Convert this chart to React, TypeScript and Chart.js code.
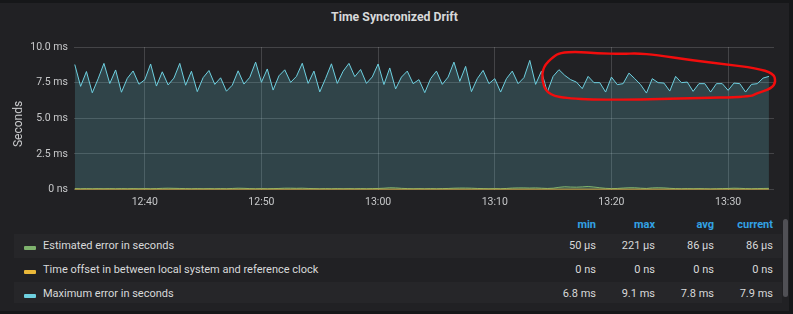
import React, { useEffect, useRef } from "react";
import { Chart, registerables } from "chart.js";

Chart.register(...registerables);

// ---- Data ----
const startTime = "12:34:00";
const sampleStepSeconds = 30;

const maxErrorMs = [
  8.77, 7.24, 8.28, 6.79, 7.77, 8.85, 7.44, 8.39, 6.83, 7.8,
  8.32, 7.39, 7.7, 8.81, 7.26, 8.26, 7.34, 7.82, 8.85, 7.32,
  8.3, 6.87, 7.85, 8.35, 7.38, 7.84, 6.9, 7.32, 8.33, 7.4,
  7.87, 8.94, 7.53, 8.46, 6.98, 7.98, 8.4, 7.52, 7.94, 8.86,
  7.45, 8.31, 6.85, 7.8, 8.82, 7.45, 8.3, 8.85, 7.92, 8.42,
  7.45, 7.9, 8.81, 7.37, 8.53, 7.06, 7.89, 8.31, 7.43, 7.71,
  6.8, 7.78, 8.31, 7.38, 7.89, 8.94, 7.59, 8.64, 6.87, 7.78,
  8.36, 7.43, 7.78, 6.84, 7.78, 8.31, 7.43, 7.85, 9.06, 7.38,
  8.31, 6.84, 7.94, 8.41, 8.01, 7.71, 7.54, 7.08, 7.94, 7.5,
  7.5, 6.84, 7.89, 7.36, 7.43, 8.17, 7.78, 7.36, 6.77, 7.78,
  7.5, 7.47, 6.91, 7.94, 7.5, 7.54, 6.89, 7.43, 7.43, 6.84,
  7.43, 7.43, 6.96, 7.47, 7.43, 6.84, 7.38, 7.43, 7.82, 7.94,
];

const estimatedErrorMs = [
  0.07, 0.06, 0.07, 0.06, 0.07, 0.06, 0.07, 0.06, 0.07, 0.06,
  0.07, 0.06, 0.07, 0.06, 0.07, 0.09, 0.1, 0.09, 0.08, 0.07,
  0.06, 0.07, 0.06, 0.07, 0.06, 0.07, 0.06, 0.08, 0.1, 0.09,
  0.07, 0.06, 0.07, 0.06, 0.07, 0.08, 0.1, 0.1, 0.09, 0.1,
  0.08, 0.07, 0.06, 0.07, 0.06, 0.07, 0.06, 0.07, 0.06, 0.07,
  0.06, 0.07, 0.08, 0.1, 0.13, 0.12, 0.09, 0.07, 0.06, 0.07,
  0.06, 0.07, 0.06, 0.07, 0.08, 0.1, 0.11, 0.11, 0.1, 0.08,
  0.07, 0.06, 0.07, 0.06, 0.08, 0.11, 0.12, 0.12, 0.11, 0.12,
  0.1, 0.08, 0.1, 0.16, 0.2, 0.18, 0.17, 0.19, 0.221, 0.18,
  0.13, 0.09, 0.07, 0.08, 0.11, 0.13, 0.13, 0.1, 0.08, 0.12,
  0.13, 0.12, 0.09, 0.07, 0.06, 0.07, 0.06, 0.07, 0.06, 0.05,
  0.06, 0.07, 0.08, 0.1, 0.09, 0.07, 0.06, 0.07, 0.08, 0.086,
];

const timeOffsetMs = [
  0, 0, 0, 0, 0, 0, 0, 0, 0, 0,
  0, 0, 0, 0, 0, 0, 0, 0, 0, 0,
  0, 0, 0, 0, 0, 0, 0, 0, 0, 0,
  0, 0, 0, 0, 0, 0, 0, 0, 0, 0,
  0, 0, 0, 0, 0, 0, 0, 0, 0, 0,
  0, 0, 0, 0, 0, 0, 0, 0, 0, 0,
  0, 0, 0, 0, 0, 0, 0, 0, 0, 0,
  0, 0, 0, 0, 0, 0, 0, 0, 0, 0,
  0, 0, 0, 0, 0, 0, 0, 0, 0, 0,
  0, 0, 0, 0, 0, 0, 0, 0, 0, 0,
  0, 0, 0, 0, 0, 0, 0, 0, 0, 0,
  0, 0, 0, 0, 0, 0, 0, 0, 0, 0,
];

const xTickLabels = ["12:40", "12:50", "13:00", "13:10", "13:20", "13:30"];
const yTickValues = [0, 2.5, 5, 7.5, 10];
const yTickLabels = ["0 ns", "2.5 ms", "5.0 ms", "7.5 ms", "10.0 ms"];

const seriesNames = [
  "Estimated error in seconds",
  "Time offset in between local system and reference clock",
  "Maximum error in seconds",
];
const seriesColors = ["#7EB26D", "#EAB839", "#6ED0E0"];
const statHeaders = ["min", "max", "avg", "current"];
const statMin = ["50 µs", "0 ns", "6.8 ms"];
const statMax = ["221 µs", "0 ns", "9.1 ms"];
const statAvg = ["86 µs", "0 ns", "7.8 ms"];
const statCurrent = ["86 µs", "0 ns", "7.9 ms"];

// hand-drawn highlight loop (time in minutes of day, value in ms)
const loopMinutes = [
  795.59, 797.02, 798.73, 801.01, 802.16, 803.87, 806.73, 809.58, 812.45, 813.87,
  814.1, 813.73, 812.45, 811.87, 806.73, 799.87, 795.87, 794.45, 794.02, 794.16, 795.01,
];
const loopValues = [
  9.6, 9.67, 9.56, 9.51, 9.56, 9.44, 9.09, 8.81, 8.51, 8.16,
  7.57, 7.1, 6.75, 6.51, 6.4, 6.28, 6.4, 6.75, 7.69, 8.62, 9.32,
];

const title = "Time Syncronized Drift";
const yAxisTitle = "Seconds";

function toMinutes(t: string): number {
  const p = t.split(":").map(Number);
  return p[0] * 60 + p[1] + (p[2] || 0) / 60;
}
function fmtTime(m: number): string {
  const h = Math.floor(m / 60);
  const mm = Math.round(m - h * 60);
  return String(h).padStart(2, "0") + ":" + String(mm).padStart(2, "0");
}

const FONT = "Roboto, 'Noto Sans', sans-serif";

export default function App() {
  const canvasRef = useRef<HTMLCanvasElement | null>(null);

  useEffect(() => {
    const canvas = canvasRef.current;
    if (!canvas) return;
    const start = toMinutes(startTime);
    const xs = maxErrorMs.map((_, i) => start + (i * sampleStepSeconds) / 60);
    const mk = (arr: number[]) => arr.map((v, i) => ({ x: xs[i], y: v }));
    const xMin = start - 4 / 60;
    const xMax = xMin + 60;

    const loopPlugin = {
      id: "loop",
      afterDatasetsDraw(chart: any) {
        const ctx = chart.ctx;
        const sx = chart.scales.x;
        const sy = chart.scales.y;
        const pts = loopMinutes.map((m, i) => [sx.getPixelForValue(m), sy.getPixelForValue(loopValues[i])]);
        ctx.save();
        ctx.strokeStyle = "#f20d0d";
        ctx.lineWidth = 2.4;
        ctx.lineJoin = "round";
        ctx.lineCap = "round";
        ctx.beginPath();
        const n = pts.length;
        const mid = (a: number[], b: number[]) => [(a[0] + b[0]) / 2, (a[1] + b[1]) / 2];
        let m0 = mid(pts[n - 1], pts[0]);
        ctx.moveTo(m0[0], m0[1]);
        for (let i = 0; i < n + 2; i++) {
          const p = pts[i % n];
          const q = pts[(i + 1) % n];
          const mm = mid(p, q);
          ctx.quadraticCurveTo(p[0], p[1], mm[0], mm[1]);
        }
        ctx.stroke();
        ctx.restore();
      },
    };

    const chart = new Chart(canvas, {
      type: "line",
      data: {
        datasets: [
          {
            label: seriesNames[2],
            data: mk(maxErrorMs),
            borderColor: seriesColors[2],
            backgroundColor: "rgba(110,208,224,0.2)",
            borderWidth: 1,
            fill: "origin",
            pointRadius: 0,
            tension: 0,
            order: 3,
          },
          {
            label: seriesNames[0],
            data: mk(estimatedErrorMs),
            borderColor: seriesColors[0],
            backgroundColor: "rgba(126,178,109,0.2)",
            borderWidth: 1,
            fill: "origin",
            pointRadius: 0,
            tension: 0,
            order: 2,
          },
          {
            label: seriesNames[1],
            data: mk(timeOffsetMs),
            borderColor: seriesColors[1],
            backgroundColor: "rgba(234,184,57,0.2)",
            borderWidth: 1.5,
            fill: false,
            pointRadius: 0,
            tension: 0,
            order: 1,
          },
        ],
      },
      options: {
        responsive: false,
        animation: false,
        layout: { padding: { left: 0, right: 15, top: 17, bottom: 0 } },
        plugins: { legend: { display: false }, tooltip: { enabled: false }, title: { display: false } },
        scales: {
          x: {
            type: "linear",
            min: xMin,
            max: xMax,
            border: { display: false },
            grid: { color: "rgba(255,255,255,0.16)", drawTicks: false },
            afterBuildTicks: (scale: any) => {
              scale.ticks = xTickLabels.map((l) => ({ value: toMinutes(l) }));
            },
            afterFit: (scale: any) => {
              scale.height = 25.4;
            },
            ticks: {
              padding: 6,
              maxRotation: 0,
              autoSkip: false,
              color: "#c7c8ca",
              font: { family: FONT, size: 10.5 },
              callback: (v: any) => fmtTime(Number(v)),
            },
          },
          y: {
            type: "linear",
            min: 0,
            max: 10,
            border: { display: false },
            grid: { color: "rgba(255,255,255,0.16)", drawTicks: false },
            afterBuildTicks: (scale: any) => {
              scale.ticks = yTickValues.map((v) => ({ value: v }));
            },
            afterFit: (scale: any) => {
              scale.width = 74;
            },
            ticks: {
              padding: 6,
              color: "#c7c8ca",
              font: { family: FONT, size: 10.5 },
              callback: (v: any) => {
                const i = yTickValues.indexOf(Number(v));
                return i >= 0 ? yTickLabels[i] : "";
              },
            },
          },
        },
      },
      plugins: [loopPlugin],
    } as any);
    return () => chart.destroy();
  }, []);

  const statCols = [statMin, statMax, statAvg, statCurrent];
  const colRights = [596, 655, 714, 773];
  const rowCenters = [245.5, 269.5, 293.5];
  const rowTops = [234, 258, 282];

  return (
    <div style={{ position: "fixed", left: 0, top: 0, width: 793, height: 314, background: "#161719", overflow: "hidden", fontFamily: FONT }}>
      <div style={{ position: "absolute", left: 0, top: 3, width: 789, height: 308, background: "#212124" }} />
      <div style={{ position: "absolute", left: 0, top: 9, width: 789, textAlign: "center", color: "#d8d9da", fontWeight: 700, fontSize: 12.3, lineHeight: "16px" }}>
        {title}
      </div>
      <canvas ref={canvasRef} width={789} height={185} style={{ position: "absolute", left: 0, top: 30, width: 789, height: 185 }} />
      <div style={{ position: "absolute", left: 17.5, top: 124, width: 0, height: 0 }}>
        <div style={{ position: "absolute", left: -40, top: -8, width: 80, height: 16, lineHeight: "16px", textAlign: "center", transform: "rotate(-90deg)", color: "#c7c8ca", fontSize: 12 }}>
          {yAxisTitle}
        </div>
      </div>
      {/* legend table */}
      {statHeaders.map((h, c) => (
        <div key={h} style={{ position: "absolute", left: colRights[c] - 80, top: 224.5 - 8, width: 80, height: 16, lineHeight: "16px", textAlign: "right", color: "#33a2e5", fontWeight: 700, fontSize: 11 }}>
          {h}
        </div>
      ))}
      {seriesNames.map((name, r) => (
        <React.Fragment key={name}>
          <div style={{ position: "absolute", left: 14, top: rowTops[r], width: 768, height: r === 2 ? 21 : 24, background: r % 2 === 0 ? "#262629" : "transparent" }} />
          <div style={{ position: "absolute", left: 24, top: rowCenters[r] + 0.5, width: 12, height: 4, borderRadius: 1, background: seriesColors[r] }} />
          <div style={{ position: "absolute", left: 43, top: rowCenters[r] - 8, height: 16, lineHeight: "16px", color: "#d8d9da", fontSize: 11, whiteSpace: "nowrap" }}>
            {name}
          </div>
          {statCols.map((col, c) => (
            <div key={c} style={{ position: "absolute", left: colRights[c] - 80, top: rowCenters[r] - 8, width: 80, height: 16, lineHeight: "16px", textAlign: "right", color: "#d8d9da", fontSize: 11, whiteSpace: "nowrap" }}>
              {col[r]}
            </div>
          ))}
        </React.Fragment>
      ))}
      <div style={{ position: "absolute", left: 783, top: 219, width: 5, height: 78, borderRadius: 3, background: "#505055" }} />
    </div>
  );
}
